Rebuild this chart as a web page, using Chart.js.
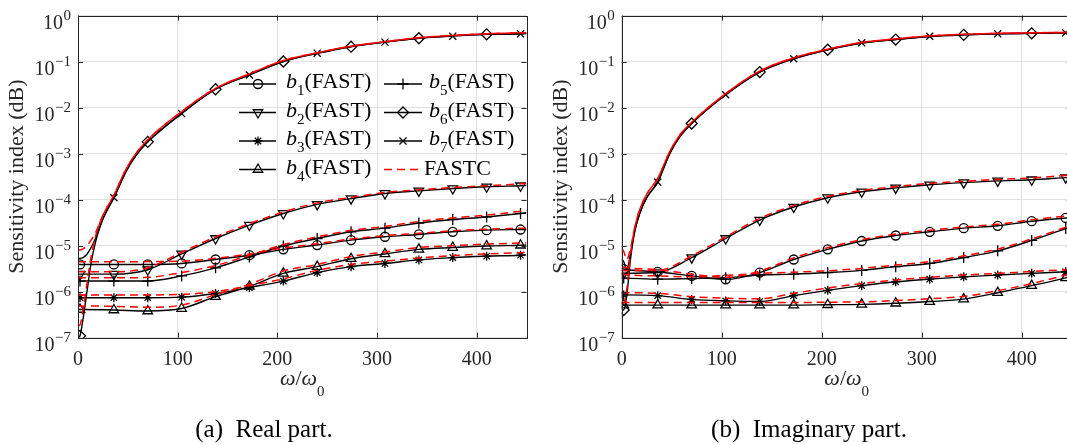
<!DOCTYPE html>
<html>
<head>
<meta charset="utf-8">
<script src="https://cdn.jsdelivr.net/npm/chart.js@4"></script>
<style>
  html, body { margin: 0; padding: 0; background: #fff; overflow: hidden; }
  body { width: 1067px; height: 445px; position: relative; }
  canvas { position: absolute; top: 0; }
  #real { left: 0; }
  #imag { left: 540px; }
</style>
</head>
<body>
<canvas id="real" width="540" height="445"></canvas>
<canvas id="imag" width="540" height="445"></canvas>
<script>
// x positions of the markers (omega/omega0)
const xMark = [2, 36, 70, 104, 138, 172, 206, 240, 274, 308, 342, 376, 410, 444];
const xLow = [0, ...xMark, 450];
const xTop = [0, 2, 5, 9, 13, 18, 25, 36, 48, 58, 70, 104, 138, 172, 206, 240, 274, 308, 342, 376, 410, 444, 450];
const xTicks = [0, 100, 200, 300, 400];
const yExps = [0, -1, -2, -3, -4, -5, -6, -7];

// (a) real part, FAST (black) and FASTC (red dashed)
const realB1 = [3.9e-6, 3.9e-6, 3.9e-6, 3.9e-6, 4.1e-6, 5.0e-6, 6.2e-6, 8.3e-6, 1.03e-5, 1.32e-5, 1.56e-5, 1.75e-5, 2.0e-5, 2.17e-5, 2.24e-5, 2.25e-5];
const realB1c = [4.45e-6, 4.45e-6, 4.45e-6, 4.5e-6, 4.6e-6, 5.3e-6, 6.6e-6, 8.9e-6, 1.1e-5, 1.4e-5, 1.65e-5, 1.85e-5, 2.1e-5, 2.28e-5, 2.38e-5, 2.4e-5];
const realB2 = [2.4e-6, 2.4e-6, 2.4e-6, 3.0e-6, 6.6e-6, 1.43e-5, 2.8e-5, 5.0e-5, 7.9e-5, 1.05e-4, 1.36e-4, 1.55e-4, 1.74e-4, 1.9e-4, 2.0e-4, 2.02e-4];
const realB2c = [2.7e-6, 2.7e-6, 2.7e-6, 3.3e-6, 7.2e-6, 1.55e-5, 3.0e-5, 5.4e-5, 8.5e-5, 1.12e-4, 1.43e-4, 1.63e-4, 1.83e-4, 2.0e-4, 2.2e-4, 2.25e-4];
const realB3 = [7.4e-7, 7.4e-7, 7.4e-7, 7.4e-7, 7.6e-7, 9.1e-7, 1.23e-6, 1.7e-6, 2.6e-6, 3.5e-6, 4.1e-6, 4.9e-6, 5.5e-6, 5.9e-6, 6.2e-6, 6.3e-6];
const realB3c = [8.5e-7, 8.5e-7, 8.5e-7, 8.5e-7, 8.7e-7, 1.0e-6, 1.35e-6, 1.9e-6, 2.9e-6, 3.9e-6, 4.6e-6, 5.4e-6, 6.1e-6, 6.6e-6, 7.0e-6, 7.1e-6];
const realB4 = [4.1e-7, 4.1e-7, 4.0e-7, 3.8e-7, 4.3e-7, 7.8e-7, 1.3e-6, 2.5e-6, 3.5e-6, 5.2e-6, 6.6e-6, 8.3e-6, 9.1e-6, 9.8e-6, 1.02e-5, 1.03e-5];
const realB4c = [4.9e-7, 4.9e-7, 4.8e-7, 4.6e-7, 5.1e-7, 8.6e-7, 1.45e-6, 2.8e-6, 3.9e-6, 5.8e-6, 7.3e-6, 9.1e-6, 1.0e-5, 1.08e-5, 1.14e-5, 1.15e-5];
const realB5 = [1.7e-6, 1.7e-6, 1.7e-6, 1.7e-6, 2.2e-6, 3.3e-6, 5.7e-6, 9.8e-6, 1.43e-5, 2.0e-5, 2.4e-5, 3.1e-5, 3.7e-5, 4.2e-5, 5.0e-5, 5.2e-5];
const realB5c = [2.0e-6, 2.0e-6, 2.0e-6, 2.05e-6, 2.6e-6, 3.7e-6, 6.2e-6, 1.05e-5, 1.55e-5, 2.15e-5, 2.6e-5, 3.35e-5, 4.0e-5, 4.6e-5, 5.6e-5, 5.8e-5];
const realB6 = [1.0e-7, 1.1e-7, 2.5e-7, 1.0e-6, 4e-6, 1.3e-5, 3.8e-5, 1.1e-4, 4e-4, 9e-4, 1.8e-3, 7.5e-3, 2.5e-2, 5.2e-2, 0.1, 0.15, 0.21, 0.265, 0.32, 0.36, 0.39, 0.40, 0.405];
const realB6c = [1.8e-7, 1.9e-7, 4e-7, 1.5e-6, 5.5e-6, 1.7e-5, 4.5e-5, 1.25e-4, 4.5e-4, 1.0e-3, 2.0e-3, 8.2e-3, 2.6e-2, 5.4e-2, 0.105, 0.155, 0.215, 0.27, 0.33, 0.37, 0.40, 0.42, 0.42];
const realB7 = [5.3e-6, 5.3e-6, 5.5e-6, 6.5e-6, 9e-6, 1.5e-5, 3.9e-5, 1.1e-4, 4e-4, 9e-4, 1.8e-3, 7.4e-3, 2.5e-2, 5.1e-2, 0.1, 0.152, 0.212, 0.264, 0.32, 0.356, 0.39, 0.40, 0.405];
const realB7c = [8e-6, 8e-6, 8.5e-6, 1e-5, 1.3e-5, 2e-5, 4.6e-5, 1.25e-4, 4.5e-4, 1.0e-3, 2.0e-3, 8.2e-3, 2.6e-2, 5.4e-2, 0.105, 0.155, 0.215, 0.27, 0.33, 0.37, 0.40, 0.42, 0.42];

// (b) imaginary part
const imagB1 = [3.2e-6, 3.1e-6, 2.7e-6, 2.2e-6, 1.85e-6, 2.6e-6, 5e-6, 8.3e-6, 1.26e-5, 1.66e-5, 2.0e-5, 2.4e-5, 2.7e-5, 3.4e-5, 4.0e-5, 4.1e-5];
const imagB1c = [3.5e-6, 3.4e-6, 3.0e-6, 2.4e-6, 2.05e-6, 2.8e-6, 5.4e-6, 9e-6, 1.35e-5, 1.78e-5, 2.15e-5, 2.55e-5, 2.9e-5, 3.65e-5, 4.4e-5, 4.5e-5];
const imagB2 = [2.5e-6, 2.5e-6, 2.6e-6, 5.5e-6, 1.43e-5, 3.6e-5, 6.9e-5, 1.1e-4, 1.48e-4, 1.8e-4, 2.1e-4, 2.34e-4, 2.55e-4, 2.7e-4, 3.0e-4, 3.05e-4];
const imagB2c = [2.9e-6, 2.9e-6, 2.9e-6, 6.0e-6, 1.55e-5, 3.9e-5, 7.4e-5, 1.18e-4, 1.58e-4, 1.92e-4, 2.25e-4, 2.5e-4, 2.75e-4, 2.95e-4, 3.35e-4, 3.4e-4];
const imagB3 = [8.5e-7, 8.5e-7, 8.2e-7, 6.8e-7, 6.3e-7, 6.1e-7, 8.2e-7, 1.07e-6, 1.35e-6, 1.64e-6, 1.87e-6, 2.1e-6, 2.3e-6, 2.5e-6, 2.7e-6, 2.75e-6];
const imagB3c = [9.5e-7, 9.5e-7, 9.2e-7, 7.8e-7, 7.2e-7, 7.0e-7, 9.2e-7, 1.2e-6, 1.5e-6, 1.8e-6, 2.05e-6, 2.3e-6, 2.5e-6, 2.75e-6, 3.0e-6, 3.05e-6];
const imagB4 = [5.1e-7, 5.1e-7, 5.1e-7, 5.1e-7, 5.1e-7, 5.1e-7, 5.1e-7, 5.2e-7, 5.3e-7, 5.6e-7, 6.1e-7, 6.9e-7, 9.5e-7, 1.35e-6, 2.0e-6, 2.2e-6];
const imagB4c = [5.8e-7, 5.8e-7, 5.8e-7, 5.8e-7, 5.8e-7, 5.8e-7, 5.8e-7, 5.9e-7, 6.0e-7, 6.4e-7, 7.0e-7, 7.9e-7, 1.05e-6, 1.5e-6, 2.3e-6, 2.5e-6];
const imagB5 = [1.97e-6, 1.97e-6, 1.87e-6, 1.93e-6, 2.0e-6, 2.3e-6, 2.4e-6, 2.6e-6, 2.9e-6, 3.5e-6, 4.1e-6, 5.5e-6, 7.7e-6, 1.3e-5, 2.35e-5, 2.6e-5];
const imagB5c = [2.5e-6, 2.4e-6, 2.2e-6, 2.1e-6, 2.25e-6, 2.5e-6, 2.65e-6, 2.85e-6, 3.2e-6, 3.8e-6, 4.5e-6, 6.0e-6, 8.4e-6, 1.4e-5, 2.5e-5, 2.8e-5];
const imagB6 = [4e-7, 4e-7, 8e-7, 5.5e-6, 2e-5, 5e-5, 1.1e-4, 2.4e-4, 1.0e-3, 2.3e-3, 4.5e-3, 1.9e-2, 5.9e-2, 0.115, 0.18, 0.25, 0.30, 0.35, 0.38, 0.40, 0.41, 0.42, 0.42];
const imagB6c = [5.5e-7, 5.5e-7, 1.1e-6, 7e-6, 2.4e-5, 6e-5, 1.3e-4, 2.9e-4, 1.1e-3, 2.5e-3, 4.8e-3, 2.0e-2, 6.2e-2, 0.12, 0.185, 0.26, 0.31, 0.36, 0.39, 0.41, 0.42, 0.43, 0.43];
const imagB7 = [5e-6, 4.5e-6, 3e-6, 7e-6, 2.1e-5, 5e-5, 1.1e-4, 2.4e-4, 1.0e-3, 2.3e-3, 4.5e-3, 1.9e-2, 5.9e-2, 0.115, 0.18, 0.255, 0.30, 0.355, 0.38, 0.40, 0.41, 0.42, 0.42];
const imagB7c = [8.5e-6, 7.5e-6, 5e-6, 9e-6, 2.5e-5, 6e-5, 1.3e-4, 2.9e-4, 1.1e-3, 2.5e-3, 4.8e-3, 2.0e-2, 6.2e-2, 0.12, 0.185, 0.26, 0.31, 0.36, 0.39, 0.41, 0.42, 0.43, 0.43];

const serif = '"Liberation Serif", "Times New Roman", serif';
const ink = '#262626';

// marker look of b1..b7 (MATLAB o, v, *, ^, +, d, x)
const markers = [
  { pointStyle: 'circle', radius: 4.5, rotation: 0 },
  { pointStyle: 'triangle', radius: 5.5, rotation: 180 },
  { pointStyle: 'star', radius: 4.5, rotation: 0 },
  { pointStyle: 'triangle', radius: 5.5, rotation: 0 },
  { pointStyle: 'cross', radius: 5.5, rotation: 0 },
  { pointStyle: 'rectRot', radius: 5.5, rotation: 0 },
  { pointStyle: 'crossRot', radius: 5, rotation: 0 },
];

function pairs(xs, ys) {
  return xs.map((x, i) => ({ x: x, y: ys[i] }));
}

function buildDatasets(fast, fastc) {
  const sets = [];
  fast.forEach((ys, i) => {
    const xs = ys.length === xTop.length ? xTop : xLow;
    const m = markers[i];
    const radii = xs.map((x, k) => {
      const mi = xMark.indexOf(x);
      if (mi < 0 || (xs === xLow && (k === 0 || k === xs.length - 1))) return 0;
      if (i === 5 && mi % 2 === 1) return 0; // b6 on even marks
      if (i === 6 && mi % 2 === 0) return 0; // b7 on odd marks
      return m.radius;
    });
    sets.push({
      data: pairs(xs, ys),
      borderColor: '#000',
      borderWidth: 1.4,
      pointStyle: m.pointStyle,
      pointRotation: m.rotation,
      pointRadius: radii,
      pointBorderColor: '#000',
      pointBackgroundColor: 'rgba(0,0,0,0)',
      pointBorderWidth: 1.3,
      cubicInterpolationMode: 'monotone',
      order: 2,
    });
  });
  fastc.forEach((ys) => {
    const xs = ys.length === xTop.length ? xTop : xLow;
    sets.push({
      data: pairs(xs, ys),
      borderColor: '#ff0000',
      borderWidth: 1.5,
      borderDash: [8, 5],
      pointRadius: 0,
      cubicInterpolationMode: 'monotone',
      order: 1,
    });
  });
  return sets;
}

function drawSup(ctx, base, sup, rightX, y) {
  ctx.font = '15px ' + serif;
  const ws = ctx.measureText(sup).width;
  ctx.textAlign = 'left';
  ctx.fillText(sup, rightX - ws, y + 4.5);
  ctx.font = '20px ' + serif;
  ctx.textAlign = 'right';
  ctx.fillText(base, rightX - ws - 0.5, y + 13);
}

function drawLegend(ctx) {
  const rows = [84, 112.5, 141, 169.5];
  const cols = [{ l0: 239, l1: 276, m: 258, t: 286 }, { l0: 384, l1: 422, m: 403, t: 429 }];
  for (let i = 0; i < 8; i++) {
    const c = cols[i < 4 ? 0 : 1];
    const y = rows[i % 4];
    ctx.save();
    if (i === 7) {
      ctx.strokeStyle = '#ff0000';
      ctx.lineWidth = 1.5;
      ctx.setLineDash([8, 5]);
    } else {
      ctx.strokeStyle = '#000';
      ctx.lineWidth = 1.4;
    }
    ctx.beginPath();
    ctx.moveTo(c.l0, y);
    ctx.lineTo(c.l1, y);
    ctx.stroke();
    ctx.restore();
    ctx.fillStyle = '#000';
    ctx.textAlign = 'left';
    if (i === 7) {
      ctx.font = '22px ' + serif;
      ctx.fillText('FASTC', c.t - 5, y + 5);
      continue;
    }
    const m = markers[i];
    ctx.save();
    ctx.strokeStyle = '#000';
    ctx.fillStyle = 'rgba(0,0,0,0)';
    ctx.lineWidth = 1.3;
    Chart.helpers.drawPoint(ctx, { pointStyle: m.pointStyle, radius: m.radius, rotation: m.rotation, borderWidth: 1.3 }, c.m, y);
    ctx.restore();
    ctx.fillStyle = '#000';
    ctx.font = 'italic 22px ' + serif;
    ctx.fillText('b', c.t, y + 4);
    let x = c.t + ctx.measureText('b').width;
    ctx.font = '15px ' + serif;
    ctx.fillText(String(i + 1), x, y + 11);
    x += ctx.measureText(String(i + 1)).width;
    ctx.font = '22px ' + serif;
    ctx.fillText('(FAST)', x, y + 4);
  }
}

const decor = {
  id: 'decor',
  afterDraw(chart) {
    const { ctx, chartArea: a, scales } = chart;
    const opt = chart.options.plugins.decor;
    const xs = scales.x, ys = scales.y;
    ctx.save();
    // ticks inside on all four sides
    ctx.strokeStyle = ink;
    ctx.lineWidth = 1;
    ctx.beginPath();
    xTicks.forEach((v) => {
      const px = Math.round(xs.getPixelForValue(v)) + 0.5;
      ctx.moveTo(px, a.bottom); ctx.lineTo(px, a.bottom - 5);
      ctx.moveTo(px, a.top); ctx.lineTo(px, a.top + 5);
    });
    yExps.forEach((e) => {
      const py = Math.round(ys.getPixelForValue(Math.pow(10, e))) + 0.5;
      ctx.moveTo(a.left, py); ctx.lineTo(a.left + 5, py);
      ctx.moveTo(a.right, py); ctx.lineTo(a.right - 5, py);
    });
    ctx.stroke();
    // frame
    ctx.strokeRect(Math.round(a.left) + 0.5, Math.round(a.top) + 0.5, Math.round(a.width), Math.round(a.height));
    // tick labels
    ctx.fillStyle = ink;
    ctx.font = '20px ' + serif;
    ctx.textAlign = 'center';
    ctx.textBaseline = 'alphabetic';
    xTicks.forEach((v) => ctx.fillText(String(v), xs.getPixelForValue(v), a.bottom + 27));
    yExps.forEach((e) => drawSup(ctx, '10', e === 0 ? '0' : '\u2212' + String(-e), a.left - 7, ys.getPixelForValue(Math.pow(10, e))));
    // y title
    ctx.save();
    ctx.translate(a.left - 55, (a.top + a.bottom) / 2);
    ctx.rotate(-Math.PI / 2);
    ctx.textAlign = 'center';
    ctx.font = '22px ' + serif;
    ctx.fillText('Sensitivity index (dB)', 0, 0);
    ctx.restore();
    // x title: omega / omega_0
    const cx = (a.left + a.right) / 2;
    const by = a.bottom + 47;
    ctx.textAlign = 'left';
    ctx.font = 'italic 22px ' + serif;
    const w1 = ctx.measureText('ω').width;
    ctx.font = '22px ' + serif;
    const w2 = ctx.measureText('/').width;
    ctx.font = '15px ' + serif;
    const w3 = ctx.measureText('0').width;
    let x0 = cx - (2 * w1 + w2 + w3) / 2;
    ctx.font = 'italic 22px ' + serif;
    ctx.fillText('ω', x0, by); x0 += w1;
    ctx.font = '22px ' + serif;
    ctx.fillText('/', x0, by); x0 += w2;
    ctx.font = 'italic 22px ' + serif;
    ctx.fillText('ω', x0, by); x0 += w1;
    ctx.font = '15px ' + serif;
    ctx.fillText('0', x0, by + 11);
    // legend
    if (opt.legend) drawLegend(ctx);
    // caption
    ctx.fillStyle = '#000';
    ctx.font = '25px ' + serif;
    ctx.textAlign = 'center';
    ctx.fillText(opt.caption, opt.captionX, 437);
    ctx.restore();
  },
};

function makeChart(id, fast, fastc, pad, caption, captionX, legend) {
  return new Chart(document.getElementById(id), {
    type: 'line',
    data: { datasets: buildDatasets(fast, fastc) },
    options: {
      responsive: false,
      animation: false,
      events: [],
      layout: { padding: pad },
      plugins: {
        legend: { display: false },
        tooltip: { enabled: false },
        decor: { caption: caption, captionX: captionX, legend: legend },
      },
      scales: {
        x: {
          type: 'linear', min: 0, max: 450,
          afterBuildTicks: (s) => { s.ticks = xTicks.map((v) => ({ value: v })); },
          ticks: { display: false },
          grid: { color: '#e0e0e0', lineWidth: 1, drawTicks: false },
          border: { display: false },
        },
        y: {
          type: 'logarithmic', min: 1e-7, max: 1,
          afterBuildTicks: (s) => { s.ticks = yExps.map((e) => ({ value: Math.pow(10, e) })); },
          ticks: { display: false },
          grid: { color: '#e0e0e0', lineWidth: 1, drawTicks: false },
          border: { display: false },
        },
      },
    },
    plugins: [decor],
  });
}

makeChart('real',
  [realB1, realB2, realB3, realB4, realB5, realB6, realB7],
  [realB1c, realB2c, realB3c, realB4c, realB5c, realB6c, realB7c],
  { left: 78, right: 13.5, top: 15.5, bottom: 107.3 },
  '(a)  Real part.', 264, true);

makeChart('imag',
  [imagB1, imagB2, imagB3, imagB4, imagB5, imagB6, imagB7],
  [imagB1c, imagB2c, imagB3c, imagB4c, imagB5c, imagB6c, imagB7c],
  { left: 81.7, right: 8.3, top: 15.5, bottom: 107.3 },
  '(b)  Imaginary part.', 269, false);
</script>
</body>
</html>
